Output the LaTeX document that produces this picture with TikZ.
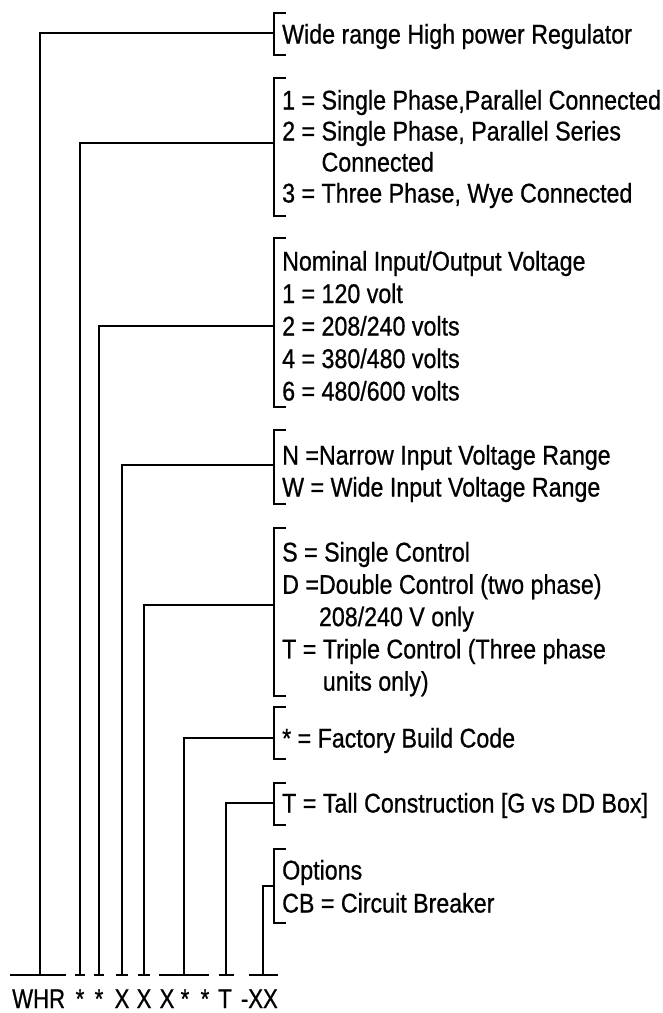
\documentclass[tikz,border=0pt]{standalone}
\usepackage{fontspec}
\newfontfamily\labfont[FakeStretch=0.86,FakeBold=0.7]{Liberation Sans}
\newfontfamily\codefont[FakeStretch=0.82,FakeBold=0.7]{Liberation Sans}
\newcommand{\stackrows}[1]{\begin{tabular}[t]{@{}l@{}}#1\end{tabular}}
\begin{document}
\begin{tikzpicture}[x=1pt,y=-1pt,
  conn/.style={line width=2.9pt},
  bar/.style={line width=2.9pt},
  brk/.style={line width=2.7pt},
  lbl/.style={inner sep=0pt, anchor=base west},
  code/.style={inner sep=0pt, font=\codefont\fontsize{27}{30}\selectfont}]
\useasboundingbox[fill=white] (0,0) rectangle (662,1013);

% text groups
\node[lbl, font=\labfont\fontsize{27}{31}\selectfont] (t1) at (282,43.5)
  {Wide range High power Regulator};
\node[lbl, font=\labfont\fontsize{27}{31}\selectfont] (t2) at (282,109.5)
  {\stackrows{1 = Single Phase,Parallel Connected\\
   2 = Single Phase, Parallel Series\\
   \phantom{2 =} Connected\\
   3 = Three Phase, Wye Connected}};
\node[lbl, font=\labfont\fontsize{27}{32.5}\selectfont] (t3) at (282,270.5)
  {\stackrows{Nominal Input/Output Voltage\\
   1 = 120 volt\\
   2 = 208/240 volts\\
   4 = 380/480 volts\\
   6 = 480/600 volts}};
\node[lbl, font=\labfont\fontsize{27}{32}\selectfont] (t4) at (282,464.5)
  {\stackrows{N =Narrow Input Voltage Range\\
   W = Wide Input Voltage Range}};
\node[lbl, font=\labfont\fontsize{27}{32.3}\selectfont] (t5) at (282,561.5)
  {\stackrows{S = Single Control\\
   D =Double Control (two phase)\\
   \phantom{D =}208/240 V only\\
   T = Triple Control (Three phase\\
   \phantom{T =} units only)}};
\node[lbl, font=\labfont\fontsize{27}{31}\selectfont] (t6) at (282,747.5)
  {* = Factory Build Code};
\node[lbl, font=\labfont\fontsize{27}{31}\selectfont] (t7) at (282,812.5)
  {T = Tall Construction [G vs DD Box]};
\node[lbl, font=\labfont\fontsize{27}{33}\selectfont] (t8) at (282,879.5)
  {\stackrows{Options\\
   CB = Circuit Breaker}};

% brackets and connectors
\foreach \i/\vx/\cy/\top/\bot in {1/40/33/13/55, 2/80/143/78/216,
   3/99/326/238/407, 4/122/465/430/504, 5/144/605/528/696,
   6/184/738/707/759, 7/226/803/783/825, 8/263/886/849/923}{
  \coordinate (foot\i) at (\vx,975);
  \coordinate (join\i) at (274,\cy);
  \draw[brk] (286,\top) -- (274,\top) -- (274,\bot) -- (286,\bot);
  \draw[conn] (foot\i) |- (join\i);
}

% bars under the code
\draw[bar] (10,975) -- (66,975);
\draw[bar] (75,975) -- (85,975);
\draw[bar] (94,975) -- (104,975);
\draw[bar] (116,975) -- (128,975);
\draw[bar] (138,975) -- (150,975);
\draw[bar] (159,975) -- (209,975);
\draw[bar] (219,975) -- (234,975);
\draw[bar] (249,975) -- (278,975);

% code string
\node[code, anchor=base west] (c1) at (12,1008) {WHR};
\node[code, anchor=base] (c2) at (80,1008) {*};
\node[code, anchor=base] (c3) at (99,1008) {*};
\node[code, anchor=base] (c4) at (122,1008) {X};
\node[code, anchor=base] (c5) at (144,1008) {X};
\node[code, anchor=base] (c6) at (167,1008) {X};
\node[code, anchor=base] (c7) at (185,1008) {*};
\node[code, anchor=base] (c8) at (205,1008) {*};
\node[code, anchor=base] (c9) at (225,1008) {T};
\node[code, anchor=base east] (c10) at (278,1008) {-XX};
\end{tikzpicture}
\end{document}
